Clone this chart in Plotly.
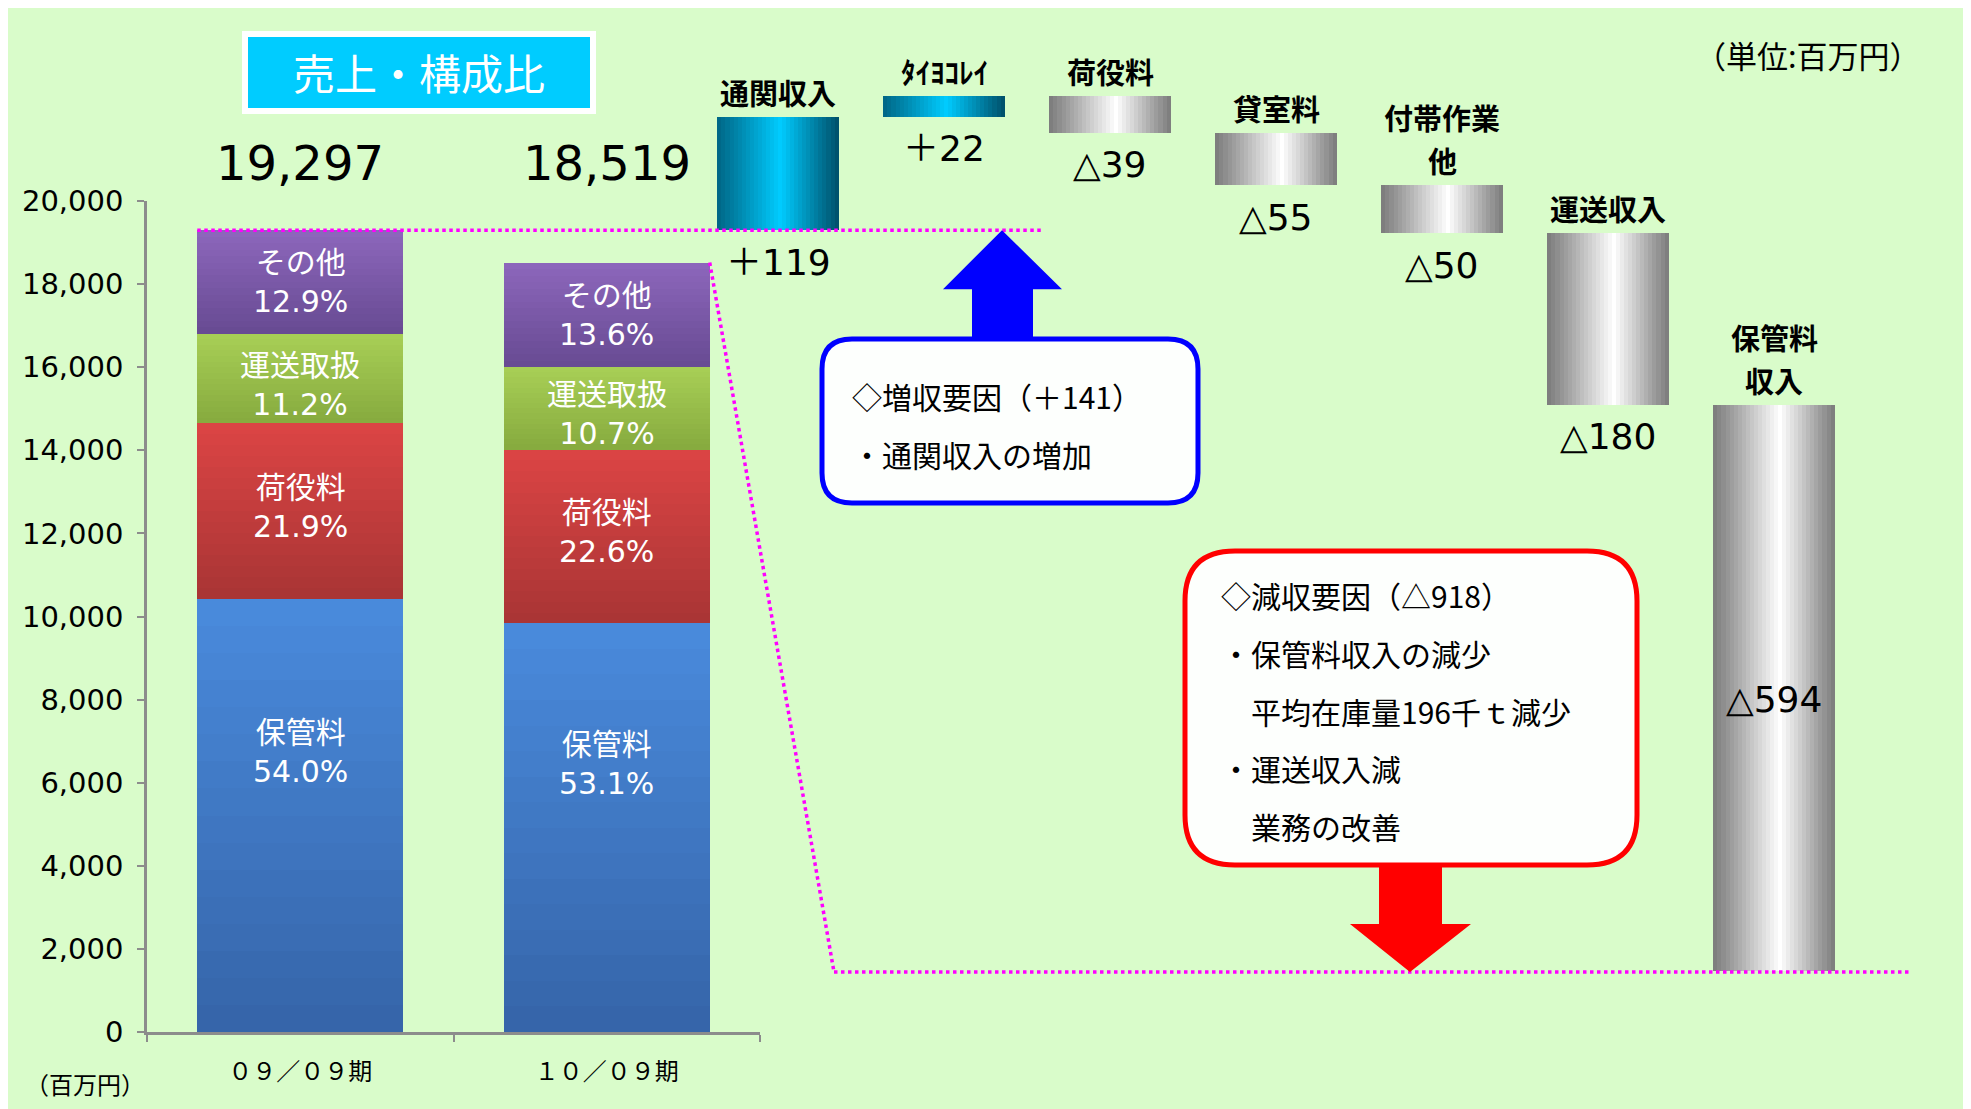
import plotly.graph_objects as go

W, H = 1971, 1109
OX, OY = 8, 8  # page offset of the figure (browser body margin)

# ---------------- data ----------------
periods = ["０９／０９期", "１０／０９期"]
period_totals = [19297, 18519]
segment_names = ["保管料", "荷役料", "運送取扱", "その他"]
pct_hokan = [54.0, 53.1]
pct_niyaku = [21.9, 22.6]
pct_unso = [11.2, 10.7]
pct_other = [12.9, 13.6]
y_ticks = list(range(0, 20001, 2000))

wf_labels = [["通関収入"], ["ﾀｲﾖｺﾚｲ"], ["荷役料"], ["貸室料"], ["付帯作業", "他"], ["運送収入"], ["保管料", "収入"]]
wf_deltas = [119, 22, -39, -55, -50, -180, -594]
wf_value_inside = [False, False, False, False, False, False, True]

inc_notes = ["・通関収入の増加"]
dec_notes = ["・保管料収入の減少", "　平均在庫量196千ｔ減少", "・運送収入減", "　業務の改善"]

# ---------------- styles ----------------
NUM = "DejaVu Sans, Noto Sans CJK JP"
JP = "Noto Sans CJK JP"
BG = "#D9FCCA"
seg_colors = {  # (bottom, top)
    "保管料": ("#3564A8", "#4A8BDD"),
    "荷役料": ("#A83434", "#DC4545"),
    "運送取扱": ("#86AA3E", "#A8CF56"),
    "その他": ("#674A92", "#8D67BC"),
}
seg_label_shift = [64, 4, -6, 0]
cyan_scale = [(0, "#006584"), (0.52, "#00CCFF"), (1, "#004E68")]
gray_scale = [(0, "#7A7A7A"), (0.55, "#FFFFFF"), (1, "#7A7A7A")]


def hex2rgb(h):
    h = h.lstrip("#")
    return tuple(int(h[i:i + 2], 16) for i in (0, 2, 4))


def lerp(c0, c1, t):
    a, b = hex2rgb(c0), hex2rgb(c1)
    return "rgb(%d,%d,%d)" % tuple(round(a[i] + (b[i] - a[i]) * t) for i in range(3))


def scale_color(scale, t):
    for (t0, c0), (t1, c1) in zip(scale[:-1], scale[1:]):
        if t <= t1:
            return lerp(c0, c1, (t - t0) / (t1 - t0))
    return scale[-1][1]


# ---------------- layout geometry (page pixels -> paper) ----------------
def px(x):
    return (x - OX) / W


def py(y):
    return 1 - (y - OY) / H


def page_y(p):
    return (1 - p) * H + OY


X_DOM = (px(147), px(760))
Y_DOM = (py(1032), py(201))
Y_MAX = 20000
BAR_W = 0.672


def lx(c):
    return X_DOM[0] + (c + 0.5) / len(periods) * (X_DOM[1] - X_DOM[0])


def ly(v):
    return Y_DOM[0] + v / Y_MAX * (Y_DOM[1] - Y_DOM[0])


# waterfall subplot: start level aligned with the left axis, end level at page y 972
n_wf = len(wf_deltas)
S, C0 = 166.0, 778.0
X2_DOM = (px(C0 - S / 2), px(C0 + (n_wf - 0.5) * S))
start_px = page_y(ly(period_totals[0]))
end_px = 972
ppu = (end_px - start_px) / (period_totals[0] - period_totals[1])
Y2_RANGE = (period_totals[1] - (page_y(0) - end_px) / ppu,
            period_totals[0] + (start_px - page_y(1)) / ppu)
WF_W = 0.73


def wy(v):
    return (v - Y2_RANGE[0]) / (Y2_RANGE[1] - Y2_RANGE[0])


fig = go.Figure()

# ---------------- left stacked bars (vertical gradient bands) ----------------
pcts = [pct_hokan, pct_niyaku, pct_unso, pct_other]
seg_vals = [[tot * p[i] / 100 for i, tot in enumerate(period_totals)] for p in pcts]
seg_base = []
run = [0.0] * len(periods)
for vals in seg_vals:
    seg_base.append(list(run))
    run = [r + v for r, v in zip(run, vals)]

K = 16
for s, name in enumerate(segment_names):
    cb, ct = seg_colors[name]
    for k in range(K):
        f0 = k / K
        fig.add_trace(go.Bar(
            x=periods,
            y=[v * (1 - f0) for v in seg_vals[s]],
            base=[b + v * f0 for b, v in zip(seg_base[s], seg_vals[s])],
            width=BAR_W,
            marker=dict(color=lerp(cb, ct, (k + 0.5) / K), line=dict(width=0)),
            xaxis="x", yaxis="y", showlegend=False, hoverinfo="skip",
        ))

# ---------------- waterfall bars (horizontal gradient strips) ----------------
wf_base = []
level = period_totals[0]
for d in wf_deltas:
    wf_base.append(level)
    level += d

N = 30
dw = WF_W / N
for j in range(N):
    t = (j + 0.5) / N
    fig.add_trace(go.Bar(
        x=list(range(n_wf)),
        y=wf_deltas,
        base=wf_base,
        width=dw * 1.7 if j < N - 1 else dw,
        offset=-WF_W / 2 + j * dw,
        marker=dict(color=[scale_color(cyan_scale if d > 0 else gray_scale, t) for d in wf_deltas],
                    line=dict(width=0)),
        xaxis="x2", yaxis="y2", showlegend=False, hoverinfo="skip",
    ))

# ---------------- annotations ----------------
ann = []


def add_text(x, y, text, font, xref="paper", yref="paper", xanchor="center", yanchor="middle", **kw):
    ann.append(dict(x=x, y=y, xref=xref, yref=yref, text=text, showarrow=False,
                    xanchor=xanchor, yanchor=yanchor, font=font, **kw))


# totals above left bars
for i, tot in enumerate(period_totals):
    add_text(periods[i], py(163), f"{tot:,}", dict(family=NUM, size=48, color="black"), xref="x")
# segment labels
for s, name in enumerate(segment_names):
    for i in range(len(periods)):
        add_text(periods[i], seg_base[s][i] + seg_vals[s][i] / 2, f"{name}<br>{pcts[s][i]:.1f}%",
                 dict(family=NUM, size=30, color="white"), xref="x", yref="y", yshift=seg_label_shift[s])
# waterfall labels
LINE = 43
for i, (lab, d) in enumerate(zip(wf_labels, wf_deltas)):
    top = max(wf_base[i], wf_base[i] + d)
    bot = min(wf_base[i], wf_base[i] + d)
    for k, part in enumerate(reversed(lab)):
        add_text(i, top, f"<b>{part}</b>", dict(family=JP, size=29, color="black"),
                 xref="x2", yref="y2", yanchor="middle", yshift=25 + k * LINE)
    vtxt = f"＋{d}" if d > 0 else f"△{-d}"
    if wf_value_inside[i]:
        add_text(i, (top + bot) / 2, vtxt, dict(family=NUM, size=36, color="black"),
                 xref="x2", yref="y2", yshift=-12)
    else:
        add_text(i, bot, vtxt, dict(family=NUM, size=36, color="black"),
                 xref="x2", yref="y2", yshift=-32)

# title box text, units
add_text(px(419), py(72), "売上・構成比", dict(family=JP, size=42, color="white"))
add_text(px(1808), py(54), "（単位:百万円）", dict(family=JP, size=31, color="black"))
add_text(px(85), py(1083), "（百万円）", dict(family=JP, size=24, color="black"))

inc_total = sum(d for d in wf_deltas if d > 0)
dec_total = -sum(d for d in wf_deltas if d < 0)
inc_lines = [f"◇増収要因（＋{inc_total}）"] + inc_notes
for k, line in enumerate(inc_lines):
    add_text(px(850), py(396 + 58 * k), line, dict(family=JP, size=30, color="black"), xanchor="left")
dec_lines = [f"◇減収要因（△{dec_total}）"] + dec_notes
for k, line in enumerate(dec_lines):
    add_text(px(1219), py(595 + 57.8 * k), line, dict(family=JP, size=30, color="black"), xanchor="left")


# ---------------- shapes ----------------
def P(x, y):
    return f"{px(x):.5f},{py(y):.5f}"


def ppath(points):
    return "M " + " L ".join(P(x, y) for x, y in points) + " Z"


def rrect(x0, y0, x1, y1, r):
    return (f"M {P(x0 + r, y0)} L {P(x1 - r, y0)} Q {P(x1, y0)} {P(x1, y0 + r)} "
            f"L {P(x1, y1 - r)} Q {P(x1, y1)} {P(x1 - r, y1)} L {P(x0 + r, y1)} "
            f"Q {P(x0, y1)} {P(x0, y1 - r)} L {P(x0, y0 + r)} Q {P(x0, y0)} {P(x0 + r, y0)} Z")


shapes = []
# title box
shapes.append(dict(type="rect", xref="paper", yref="paper", x0=px(245), x1=px(593), y0=py(111), y1=py(34),
                   fillcolor="#00CCFF", line=dict(color="white", width=6), layer="above"))

# dotted connector lines
dot = dict(color="#FF00FF", width=3.5, dash="dot")
y_start = ly(period_totals[0])
half_bar = BAR_W / 2 * (X_DOM[1] - X_DOM[0]) / len(periods)
shapes.append(dict(type="line", xref="paper", yref="paper",
                   x0=lx(0) - half_bar, x1=px(1043), y0=y_start, y1=y_start, line=dot, layer="above"))
y_end = wy(period_totals[1])
shapes.append(dict(type="line", xref="paper", yref="paper",
                   x0=lx(1) + half_bar, y0=ly(period_totals[1]), x1=px(834), y1=y_end, line=dot, layer="above"))
shapes.append(dict(type="line", xref="paper", yref="paper",
                   x0=px(834), x1=px(1911), y0=y_end, y1=y_end, line=dot, layer="above"))

# blue arrow (up to start level)
tip_b = page_y(wy(period_totals[0]))
shapes.append(dict(type="path", xref="paper", yref="paper", layer="above",
                   path=ppath([(1002, tip_b), (1062, tip_b + 59), (1033, tip_b + 59), (1033, 345),
                               (972, 345), (972, tip_b + 59), (943, tip_b + 59)]),
                   fillcolor="#0000FF", line=dict(width=0)))
# red arrow (down to end level)
tip_r = page_y(wy(period_totals[1]))
shapes.append(dict(type="path", xref="paper", yref="paper", layer="above",
                   path=ppath([(1379, 860), (1442, 860), (1442, tip_r - 48), (1471, tip_r - 48),
                               (1410, tip_r), (1350, tip_r - 48), (1379, tip_r - 48)]),
                   fillcolor="#FF0000", line=dict(width=0)))
# callout boxes
shapes.append(dict(type="path", xref="paper", yref="paper", layer="above",
                   path=rrect(822, 339, 1198, 503, 30), fillcolor="#FDFFFD",
                   line=dict(color="#0000FF", width=5)))
shapes.append(dict(type="path", xref="paper", yref="paper", layer="above",
                   path=rrect(1185, 551, 1637, 865, 50), fillcolor="#FDFFFD",
                   line=dict(color="#FF0000", width=5)))

fig.update_layout(
    width=W, height=H, autosize=False,
    margin=dict(l=0, r=0, t=0, b=0, pad=0, autoexpand=False),
    paper_bgcolor=BG, plot_bgcolor="rgba(0,0,0,0)",
    barmode="overlay", bargap=0,
    showlegend=False,
    annotations=ann, shapes=shapes,
    xaxis=dict(domain=list(X_DOM), type="category", categoryorder="array", categoryarray=periods,
               range=[-0.5, len(periods) - 0.5], showline=True, linecolor="#8C8C8C", linewidth=2.5,
               ticks="outside", tickson="boundaries", ticklen=7, tickcolor="#8C8C8C", tickwidth=2,
               tickfont=dict(family=JP, size=24, color="black"), ticklabelstandoff=16,
               showgrid=False, zeroline=False, anchor="y", fixedrange=True, automargin=False),
    yaxis=dict(domain=list(Y_DOM), range=[0, Y_MAX], tickvals=y_ticks, tickformat=",",
               showline=True, linecolor="#8C8C8C", linewidth=2.5, ticks="outside", ticklen=7,
               tickcolor="#8C8C8C", tickwidth=2, tickfont=dict(family=NUM, size=29, color="black"),
               ticklabelstandoff=8, showgrid=False, zeroline=False, anchor="x", fixedrange=True,
               automargin=False),
    xaxis2=dict(domain=list(X2_DOM), range=[-0.5, n_wf - 0.5], visible=False, anchor="y2",
                fixedrange=True, automargin=False),
    yaxis2=dict(domain=[0, 1], range=list(Y2_RANGE), visible=False, anchor="x2", fixedrange=True,
                automargin=False),
)

fig.write_html("out.html", config={"displayModeBar": False})
